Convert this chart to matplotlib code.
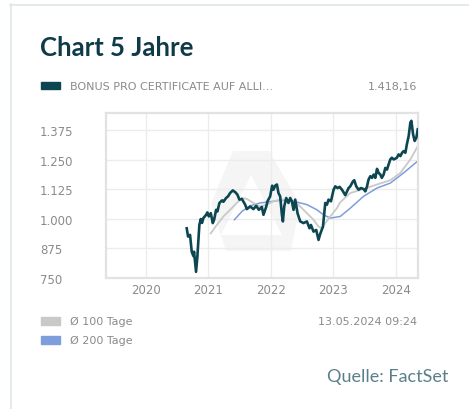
#!/usr/bin/env python3
import matplotlib

matplotlib.use("Agg")
import matplotlib.pyplot as plt
from matplotlib.lines import Line2D
from matplotlib.patches import Polygon, Rectangle
from matplotlib.ticker import FuncFormatter

W, H = 469, 410

# price series (decimal year, value)
PRICE_X = [2020.652, 2020.673, 2020.705, 2020.732, 2020.758, 2020.769, 2020.801, 2020.822, 2020.854, 2020.877,
           2020.897, 2020.918, 2020.962, 2020.982, 2021.005, 2021.037, 2021.069, 2021.090, 2021.122, 2021.143,
           2021.175, 2021.218, 2021.239, 2021.282, 2021.314, 2021.346, 2021.389, 2021.431, 2021.463, 2021.495,
           2021.534, 2021.587, 2021.614, 2021.667, 2021.720, 2021.763, 2021.806, 2021.854, 2021.880, 2021.923,
           2021.944, 2021.987, 2022.019, 2022.040, 2022.067, 2022.095, 2022.120, 2022.147, 2022.175, 2022.191,
           2022.212, 2022.244, 2022.280, 2022.308, 2022.335, 2022.361, 2022.388, 2022.425, 2022.468, 2022.521,
           2022.575, 2022.617, 2022.640, 2022.681, 2022.724, 2022.761, 2022.788, 2022.832, 2022.869, 2022.896,
           2022.921, 2022.960, 2023.002, 2023.029, 2023.066, 2023.098, 2023.136, 2023.162, 2023.189, 2023.242,
           2023.269, 2023.312, 2023.333, 2023.365, 2023.402, 2023.440, 2023.482, 2023.510, 2023.537, 2023.562,
           2023.590, 2023.617, 2023.643, 2023.670, 2023.697, 2023.723, 2023.750, 2023.774, 2023.803, 2023.830,
           2023.857, 2023.883, 2023.910, 2023.935, 2023.963, 2023.990, 2024.015, 2024.043, 2024.071, 2024.098,
           2024.123, 2024.151, 2024.175, 2024.204, 2024.231, 2024.247, 2024.274, 2024.300, 2024.327, 2024.349]
PRICE_Y = [960, 925, 932, 861, 843, 861, 776, 840, 974, 999,
           983, 1003, 1017, 1027, 1010, 1024, 982, 996, 1038, 1031,
           1067, 1078, 1072, 1088, 1095, 1109, 1120, 1112, 1102, 1081,
           1084, 1060, 1041, 1052, 1041, 1055, 1038, 1050, 1017, 1050,
           1074, 1095, 1140, 1123, 1140, 1145, 1109, 1095, 1017, 989,
           1052, 1088, 1067, 1088, 1074, 1038, 1081, 1024, 989, 982,
           989, 960, 974, 946, 953, 911, 936, 967, 1067, 1060,
           1081, 1074, 1123, 1137, 1130, 1135, 1123, 1112, 1100, 1130,
           1137, 1158, 1163, 1137, 1123, 1130, 1126, 1116, 1137, 1166,
           1180, 1173, 1187, 1173, 1211, 1194, 1187, 1173, 1187, 1215,
           1208, 1230, 1251, 1258, 1251, 1254, 1258, 1272, 1265, 1279,
           1286, 1279, 1315, 1350, 1407, 1414, 1357, 1329, 1343, 1378]

# 100-day moving average
MA100_X = [2021.037, 2021.133, 2021.239, 2021.346, 2021.453, 2021.534, 2021.614, 2021.720, 2021.827, 2021.934,
           2022.040, 2022.147, 2022.255, 2022.361, 2022.468, 2022.575, 2022.681, 2022.761, 2022.816, 2022.869,
           2022.949, 2023.056, 2023.109, 2023.269, 2023.482, 2023.697, 2023.910, 2024.071, 2024.231, 2024.349]
MA100_Y = [939, 974, 1010, 1038, 1067, 1088, 1084, 1067, 1052, 1060,
           1074, 1081, 1081, 1074, 1052, 1024, 996, 967, 960, 982,
           1010, 1045, 1070, 1109, 1126, 1145, 1163, 1194, 1251, 1307]

# 200-day moving average
MA200_X = [2021.415, 2021.534, 2021.667, 2021.827, 2022.040, 2022.147, 2022.361, 2022.575, 2022.736, 2022.841,
           2022.949, 2023.109, 2023.269, 2023.482, 2023.697, 2023.910, 2024.123, 2024.349]
MA200_Y = [996, 1031, 1055, 1067, 1074, 1078, 1074, 1060, 1038, 1017,
           1003, 1010, 1045, 1095, 1130, 1151, 1194, 1244]

X_TICKS = [2020, 2021, 2022, 2023, 2024]
Y_TICKS = [750, 875, 1000, 1125, 1250, 1375]

DARK = "#0c4650"
GRAY_MA = "#c9c9c9"
BLUE_MA = "#7e9ddb"
TEXT_GRAY = "#8a8a8a"


def fx(px):
    return px / W


def fy(py):
    return 1 - py / H


def de_num(v, _pos=None):
    return f"{int(v):,}".replace(",", ".")


fig = plt.figure(figsize=(W / 100, H / 100), dpi=100)
fig.patch.set_facecolor("white")

# card frame
fig.add_artist(Line2D([fx(10.5), fx(10.5)], [fy(5), 0], color="#dfe5e8", linewidth=1.2))
fig.add_artist(Line2D([fx(10), 1], [fy(5.5), fy(5.5)], color="#dfe5e8", linewidth=1.2))

fig.text(fx(40), fy(48), "Chart 5 Jahre", fontsize=18.5, fontweight="bold", family="Lato",
         color="#0f3a47", va="center", ha="left")

# top legend
fig.add_artist(Rectangle((fx(41), fy(90)), fx(19), 7 / H, color=DARK, transform=fig.transFigure))
fig.text(fx(70), fy(87), "BONUS PRO CERTIFICATE AUF ALLI...", fontsize=8, color=TEXT_GRAY,
         va="center", ha="left")
fig.text(fx(417), fy(87), "1.418,16", fontsize=8, color=TEXT_GRAY, va="center", ha="right")

ax = fig.add_axes([fx(106), fy(279), (418 - 106) / W, (279 - 114) / H])
ax.set_axisbelow(True)

# faint logo watermark (hexagon with a triangular hole)
outer = [(233, 152), (269, 152), (300, 205), (291, 252), (226, 252), (211, 205)]
inner = [(251, 176), (282, 236), (221, 236)]
ax.add_patch(Polygon([(fx(a), fy(b)) for a, b in outer], closed=True, transform=fig.transFigure,
                     facecolor="#f5f5f5", edgecolor="none", zorder=0))
ax.add_patch(Polygon([(fx(a), fy(b)) for a, b in inner], closed=True, transform=fig.transFigure,
                     facecolor="white", edgecolor="none", zorder=0.1))

ax.plot(MA200_X, MA200_Y, color=BLUE_MA, linewidth=1.1, zorder=2)
ax.plot(MA100_X, MA100_Y, color=GRAY_MA, linewidth=1.3, zorder=2)
ax.plot(PRICE_X, PRICE_Y, color=DARK, linewidth=1.9, zorder=3, solid_joinstyle="round")

ax.set_xlim(2019.36, 2024.353)
ax.set_ylim(750, 1447)
ax.set_xticks(X_TICKS)
ax.set_xticklabels([str(t) for t in X_TICKS])
ax.set_yticks(Y_TICKS)
ax.yaxis.set_major_formatter(FuncFormatter(de_num))
ax.tick_params(axis="both", length=0, labelsize=8.5, labelcolor=TEXT_GRAY)
ax.tick_params(axis="y", pad=47.5)
ax.tick_params(axis="x", pad=3.5)
for lbl in ax.get_yticklabels():
    lbl.set_horizontalalignment("left")
ax.grid(color="#ececec", linewidth=1.0)
for sp in ax.spines.values():
    sp.set_color("#e2e2e2")
    sp.set_linewidth(1.6)

# bottom legend
fig.add_artist(Rectangle((fx(41), fy(326)), fx(19), 8 / H, color=GRAY_MA, transform=fig.transFigure))
fig.add_artist(Rectangle((fx(41), fy(345)), fx(19), 8 / H, color=BLUE_MA, transform=fig.transFigure))
fig.text(fx(70), fy(322), "Ø 100 Tage", fontsize=8, color=TEXT_GRAY, va="center", ha="left")
fig.text(fx(70), fy(341), "Ø 200 Tage", fontsize=8, color=TEXT_GRAY, va="center", ha="left")
fig.text(fx(417), fy(322), "13.05.2024 09:24", fontsize=8, color=TEXT_GRAY, va="center", ha="right")

fig.text(fx(448), fy(377), "Quelle: FactSet", fontsize=13, family="Lato",
         color="#5a7f8a", va="center", ha="right")

fig.savefig("out.png", dpi=100)
